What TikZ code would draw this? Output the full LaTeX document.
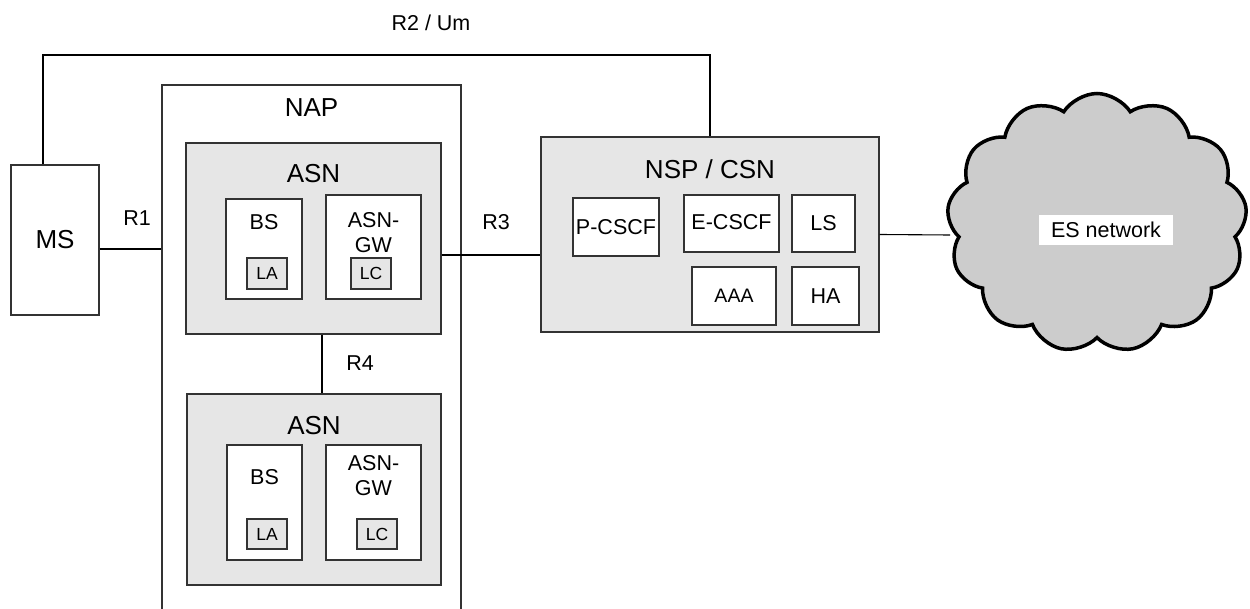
\documentclass[tikz,border=0pt]{standalone}
\usepackage{fontspec}
\setmainfont{Liberation Sans}
\usetikzlibrary{shapes.symbols}
\definecolor{boxline}{HTML}{333333}
\definecolor{lightfill}{HTML}{E6E6E6}
\definecolor{cloudfill}{HTML}{CCCCCC}
\tikzset{
  box/.style={draw=boxline, line width=1.1pt, fill=white, inner sep=0pt, rectangle},
  greybox/.style={box, fill=lightfill},
  bigtxt/.style={font=\fontsize{26}{30}\selectfont, inner sep=0pt},
  medtxt/.style={font=\fontsize{21.5}{26}\selectfont, inner sep=0pt, align=center},
  smalltxt/.style={font=\fontsize{17.5}{20}\selectfont, inner sep=0pt},
  conn/.style={draw=black, line width=1.1pt},
}
\newcommand{\bx}[6]{\node[#1, minimum width=#4pt, minimum height=#5pt] (#2) at (#3) {#6};}
\begin{document}
\begin{tikzpicture}[x=1pt, y=-1pt]
\useasboundingbox (0,0) rectangle (1250,609);
% MS
\bx{box}{MS}{55,240}{88}{150}{}
\node[bigtxt] (MStxt) at (55,240) {MS};
% NAP (extends below page)
\bx{box}{NAP}{311.5,365}{299}{560}{}
\node[bigtxt] (NAPtxt) at (311.5,108) {NAP};
% upper ASN
\bx{greybox}{ASN1}{313.5,238.5}{255}{191}{}
\node[bigtxt] (ASN1txt) at (313.5,174) {ASN};
\bx{box}{BS1}{264,249}{76}{100}{}
\node[medtxt] (BS1txt) at (264,222) {BS};
\bx{greybox}{LA1}{267,273.5}{40}{31}{}
\node[smalltxt] (LA1txt) at (267,273.5) {LA};
\bx{box}{GW1}{373.5,247}{95}{104}{}
\node[medtxt] (GW1txt) at (373.5,233) {ASN-\\[-1pt]GW};
\bx{greybox}{LC1}{371,273.5}{40}{31}{}
\node[smalltxt] (LC1txt) at (371,273.5) {LC};
% lower ASN
\bx{greybox}{ASN2}{314,489.5}{254}{191}{}
\node[bigtxt] (ASN2txt) at (314,426) {ASN};
\bx{box}{BS2}{264.5,502.5}{75}{115}{}
\node[medtxt] (BS2txt) at (264.5,477) {BS};
\bx{greybox}{LA2}{267,534}{40}{30}{}
\node[smalltxt] (LA2txt) at (267,534) {LA};
\bx{box}{GW2}{373.5,502.5}{95}{115}{}
\node[medtxt] (GW2txt) at (373.5,476) {ASN-\\[-1pt]GW};
\bx{greybox}{LC2}{377,534}{40}{30}{}
\node[smalltxt] (LC2txt) at (377,534) {LC};
% NSP / CSN
\bx{greybox}{NSP}{710,234.5}{338}{195}{}
\node[bigtxt] (NSPtxt) at (710,169) {NSP / CSN};
\bx{box}{PCSCF}{616,227}{86}{58}{}
\node[medtxt] (PCSCFtxt) at (616,227) {P-CSCF};
\bx{box}{ECSCF}{731.5,223.5}{95}{57}{}
\node[medtxt] (ECSCFtxt) at (731.5,222) {E-CSCF};
\bx{box}{LS}{823.5,223.5}{63}{57}{}
\node[medtxt] (LStxt) at (823.5,223.5) {LS};
\bx{box}{AAA}{734,296}{84}{58}{}
\node[font=\fontsize{19.5}{22}\selectfont, inner sep=0pt] (AAAtxt) at (734,296) {AAA};
\bx{box}{HA}{825.5,296}{67}{58}{}
\node[medtxt] (HAtxt) at (825.5,296) {HA};
% cloud connector drawn first
\coordinate (cloudW) at (950,235);
\draw[conn] (NSP.east) -- (cloudW);
\node[cloud, cloud puffs=13, cloud puff arc=115, aspect=1.15, draw=black, line width=3.5pt, fill=cloudfill, minimum width=300pt, minimum height=259pt, inner sep=0pt] (ES) at (1097,223) {};
\node[medtxt, fill=white, minimum width=134pt, minimum height=30pt] (EStxt) at (1106,230) {ES network};
% connectors
\coordinate (r2a) at (43,55);
\draw[conn] (MS.north -| r2a) -- (r2a) -| (NSP.north);
\node[medtxt] (R2) at (431,23) {R2 / Um};
\coordinate (r1y) at (0,249);
\draw[conn] (MS.east |- r1y) -- (NAP.west |- r1y);
\node[medtxt] (R1) at (137,218) {R1};
\coordinate (r3y) at (0,255);
\draw[conn] (ASN1.east |- r3y) -- (NSP.west |- r3y);
\node[medtxt] (R3) at (496,222) {R3};
\coordinate (r4x) at (322,0);
\draw[conn] (ASN1.south -| r4x) -- (ASN2.north -| r4x);
\node[medtxt] (R4) at (360,363) {R4};
\end{tikzpicture}
\end{document}
